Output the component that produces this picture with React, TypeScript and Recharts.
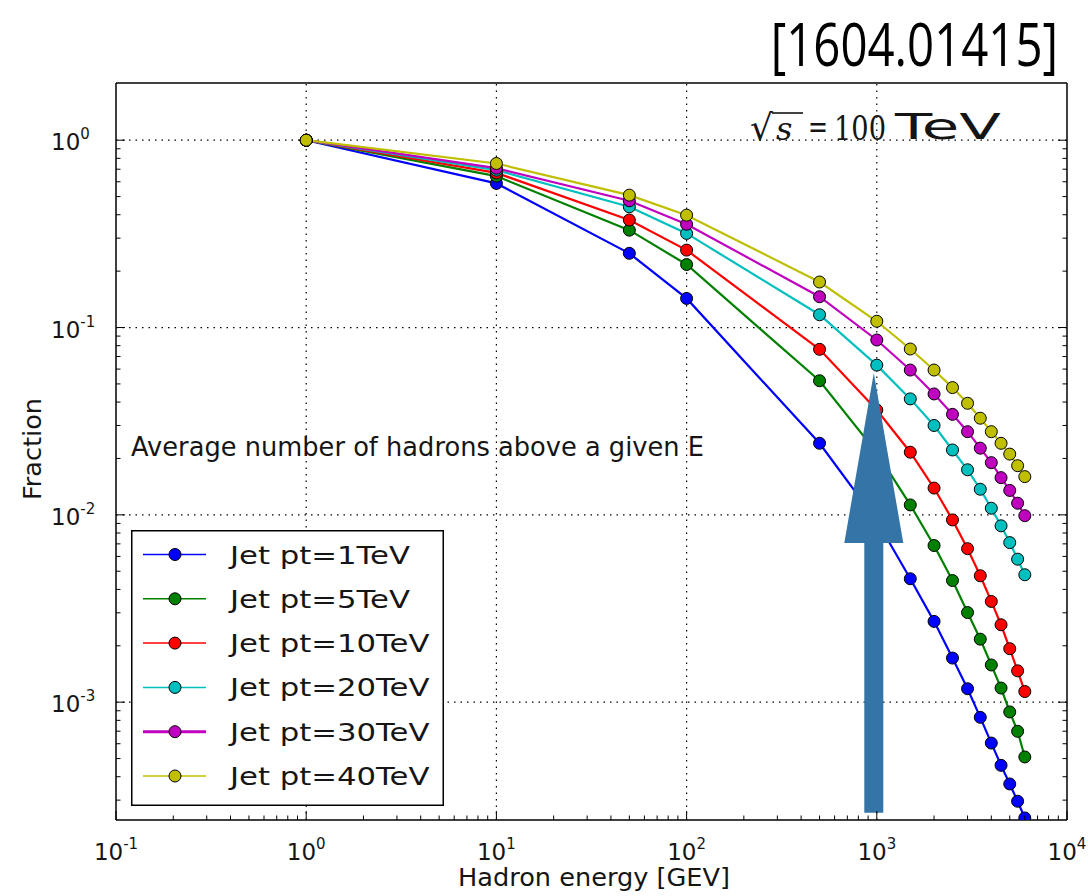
import { LineChart, Line, XAxis, YAxis, ReferenceLine, Legend } from 'recharts';

// Hadron energy [GeV] at which the fraction was evaluated
const energies = [1, 10, 50, 100, 500, 1000, 1500, 2000, 2500, 3000, 3500, 4000, 4500, 5000, 5500, 6000];

// Average number of hadrons above a given E, one list per jet pt
const jet1TeV = [1, 0.588, 0.249, 0.143, 0.0241, 0.0093, 0.00456, 0.0027, 0.00172, 0.00118, 0.00083, 0.000605, 0.00046, 0.000366, 0.000296, 0.000241];
const jet5TeV = [1, 0.643, 0.331, 0.217, 0.052, 0.0215, 0.0113, 0.00686, 0.00446, 0.00301, 0.00217, 0.00158, 0.00119, 0.000887, 0.000699, 0.00051];
const jet10TeV = [1, 0.669, 0.375, 0.259, 0.0765, 0.0363, 0.0216, 0.0139, 0.0094, 0.0066, 0.00473, 0.00345, 0.00259, 0.00193, 0.00147, 0.00114];
const jet20TeV = [1, 0.692, 0.441, 0.318, 0.117, 0.063, 0.0416, 0.03, 0.0222, 0.0174, 0.0137, 0.01085, 0.00874, 0.00711, 0.0058, 0.00479];
const jet30TeV = [1, 0.709, 0.475, 0.356, 0.146, 0.0858, 0.0593, 0.0442, 0.0344, 0.0278, 0.0227, 0.019, 0.0158, 0.0135, 0.01154, 0.0099];
const jet40TeV = [1, 0.751, 0.509, 0.398, 0.175, 0.108, 0.0768, 0.0593, 0.0478, 0.0394, 0.0328, 0.0278, 0.0241, 0.0211, 0.0183, 0.016];

const seriesValues = [jet1TeV, jet5TeV, jet10TeV, jet20TeV, jet30TeV, jet40TeV];
const seriesNames = ['Jet pt=1TeV', 'Jet pt=5TeV', 'Jet pt=10TeV', 'Jet pt=20TeV', 'Jet pt=30TeV', 'Jet pt=40TeV'];
const seriesColors = ['#0000ff', '#008000', '#ff0000', '#00bfbf', '#bf00bf', '#bfbf00'];

const xDomain = [0.1, 10000];
const yDomain = [2.35e-4, 2.02];
const xGrid = [1, 10, 100, 1000];
const yGrid = [1, 0.1, 0.01, 0.001];

// arrow pointing up at 1 TeV hadron energy
const arrowX = 1000;
const arrowTop = 0.0572;
const arrowBottom = 2.57e-4;

const rows = energies.map((e, i) => {
  const row: Record<string, number> = { energy: e };
  seriesValues.forEach((vals, k) => (row['s' + k] = vals[i]));
  return row;
});

// decade + minor ticks (1..9 x 10^d) inside the range
function logTicks(lo: number, hi: number) {
  const out: number[] = [];
  for (let d = Math.floor(Math.log10(lo)); d <= Math.ceil(Math.log10(hi)); d++) {
    for (let m = 1; m <= 9; m++) {
      const v = m * Math.pow(10, d);
      if (v >= lo * 0.999 && v <= hi * 0.99) out.push(v);
    }
  }
  return out;
}
const xTicks = logTicks(xDomain[0], xDomain[1] * 1.02);
const yTicks = logTicks(yDomain[0], yDomain[1]);

const isDecade = (v: number) => Math.abs(Math.log10(v) - Math.round(Math.log10(v))) < 1e-6;
const expOf = (v: number) => Math.round(Math.log10(v));

const FONT = 'DejaVu Sans';
const INK = '#151515';
const MAJOR = 9;
const MINOR = 4.5;

const BottomTick = (props: any) => {
  const { x, y, payload } = props;
  const major = isDecade(payload.value);
  return (
    <g>
      <line x1={x} x2={x} y1={y} y2={y - (major ? MAJOR : MINOR)} stroke="#000" strokeWidth={1} />
      {major && (
        <text x={x} y={y + 40} textAnchor="middle" fontFamily={FONT} fontSize={23} fill={INK}>
          10<tspan dy={-11} fontSize={15}>{expOf(payload.value)}</tspan>
        </text>
      )}
    </g>
  );
};

const TopTick = (props: any) => {
  const { x, y, payload } = props;
  const major = isDecade(payload.value);
  return <line x1={x} x2={x} y1={y} y2={y + (major ? MAJOR : MINOR)} stroke="#000" strokeWidth={1} />;
};

const LeftTick = (props: any) => {
  const { x, y, payload } = props;
  const major = isDecade(payload.value);
  return (
    <g>
      <line x1={x} x2={x + (major ? MAJOR : MINOR)} y1={y} y2={y} stroke="#000" strokeWidth={1} />
      {major && (
        <text x={x - 65} y={y + 10} fontFamily={FONT} fontSize={23} fill={INK}>
          10<tspan dy={-11} fontSize={15}>{expOf(payload.value)}</tspan>
        </text>
      )}
    </g>
  );
};

const RightTick = (props: any) => {
  const { x, y, payload } = props;
  const major = isDecade(payload.value);
  return <line x1={x} x2={x - (major ? MAJOR : MINOR)} y1={y} y2={y} stroke="#000" strokeWidth={1} />;
};

const Arrow = (props: any) => {
  const { x1, y1, y2 } = props;
  const cx = x1 - 3;
  const headLen = 170;
  const headHalf = 29.5;
  const shaftHalf = 9.5;
  const pts = [
    [cx, y1],
    [cx + headHalf, y1 + headLen],
    [cx + shaftHalf, y1 + headLen],
    [cx + shaftHalf, y2],
    [cx - shaftHalf, y2],
    [cx - shaftHalf, y1 + headLen],
    [cx - headHalf, y1 + headLen],
  ];
  return <polygon points={pts.map((p) => p.join(',')).join(' ')} fill="#3474a6" />;
};

const LegendBox = () => (
  <svg width={313} height={276} style={{ display: 'block' }}>
    <rect x={0.75} y={0.75} width={311.5} height={274.5} fill="#fff" stroke="#000" strokeWidth={1.5} />
    {seriesNames.map((name, i) => {
      const cy = 24.5 + i * 44.3;
      return (
        <g key={name}>
          <line x1={12} x2={75} y1={cy} y2={cy} stroke={seriesColors[i]} strokeWidth={i === 4 ? 3 : 1.5} />
          <circle cx={44} cy={cy} r={6} fill={seriesColors[i]} stroke="#000" strokeWidth={1} />
          <text transform={`translate(99 ${cy + 9}) scale(1.28 1)`} fontFamily={FONT} fontSize={24} fill={INK}>
            {name}
          </text>
        </g>
      );
    })}
  </svg>
);

const axisLine = { stroke: '#000', strokeWidth: 1.5 };

export default function App() {
  return (
    <div style={{ position: 'absolute', left: 0, top: 0, width: 1088, height: 896, background: '#fff', overflow: 'hidden' }}>
      <LineChart width={1088} height={896} data={rows} margin={{ top: 82, right: 20, bottom: 75, left: 115 }}>
        <XAxis
          dataKey="energy"
          type="number"
          scale="log"
          domain={xDomain}
          allowDataOverflow
          ticks={xTicks}
          interval={0}
          height={1}
          tickSize={0}
          tickMargin={0}
          tick={BottomTick}
          axisLine={axisLine}
        />
        <XAxis
          xAxisId="top"
          orientation="top"
          type="number"
          scale="log"
          domain={xDomain}
          allowDataOverflow
          ticks={xTicks}
          interval={0}
          height={1}
          tickSize={0}
          tickMargin={0}
          tick={TopTick}
          axisLine={axisLine}
        />
        <YAxis
          type="number"
          scale="log"
          domain={yDomain}
          allowDataOverflow
          ticks={yTicks}
          interval={0}
          width={1}
          tickSize={0}
          tickMargin={0}
          tick={LeftTick}
          axisLine={axisLine}
        />
        <YAxis
          yAxisId="right"
          orientation="right"
          type="number"
          scale="log"
          domain={yDomain}
          allowDataOverflow
          ticks={yTicks}
          interval={0}
          width={1}
          tickSize={0}
          tickMargin={0}
          tick={RightTick}
          axisLine={axisLine}
        />
        {xGrid.map((v) => (
          <ReferenceLine key={'gx' + v} x={v} stroke="#000" strokeWidth={1.2} strokeDasharray="1.5 5" />
        ))}
        {yGrid.map((v) => (
          <ReferenceLine key={'gy' + v} y={v} stroke="#000" strokeWidth={1.2} strokeDasharray="1.5 5" />
        ))}
        {seriesNames.map((name, k) => (
          <Line
            key={name}
            name={name}
            dataKey={'s' + k}
            type="linear"
            stroke={seriesColors[k]}
            strokeWidth={2.2}
            dot={{ r: 6, fill: seriesColors[k], stroke: '#000', strokeWidth: 1 }}
            isAnimationActive={false}
          />
        ))}
        <ReferenceLine
          segment={[{ x: arrowX, y: arrowTop }, { x: arrowX, y: arrowBottom }]}
          shape={Arrow}
          ifOverflow="visible"
          zIndex={1500}
        />
        <Legend
          content={LegendBox}
          layout="horizontal"
          verticalAlign="middle"
          align="center"
          wrapperStyle={{ left: 131, top: 530, width: 313, height: 276 }}
        />
      </LineChart>
      <svg width={1088} height={896} style={{ position: 'absolute', left: 0, top: 0, pointerEvents: 'none' }}>
        <text transform="translate(1058 66) scale(0.79 1)" textAnchor="end" fontFamily="Open Sans" fontSize={60} fill="#000">
          [1604.01415]
        </text>
        <text x={750} y={140} fontFamily="DejaVu Serif" fontSize={36} fill={INK}>√</text>
        <line x1={772} x2={803} y1={113} y2={113} stroke={INK} strokeWidth={1.6} />
        <text x={776} y={140} fontFamily="DejaVu Serif" fontStyle="italic" fontSize={32} fill={INK}>s</text>
        <text x={808} y={138} fontFamily="DejaVu Serif" fontSize={32} textLength={20} lengthAdjust="spacingAndGlyphs" fill={INK}>=</text>
        <text x={834} y={140} fontFamily="DejaVu Serif" fontSize={33} textLength={52} lengthAdjust="spacingAndGlyphs" fill={INK}>100</text>
        <text x={895} y={139} fontFamily={FONT} fontSize={35} textLength={106} lengthAdjust="spacingAndGlyphs" fill={INK}>TeV</text>
        <text x={131} y={456} fontFamily={FONT} fontSize={27} textLength={573} lengthAdjust="spacingAndGlyphs" fill={INK}>
          Average number of hadrons above a given E
        </text>
        <text x={458} y={886} fontFamily={FONT} fontSize={24} textLength={272} lengthAdjust="spacingAndGlyphs" fill={INK}>
          Hadron energy [GEV]
        </text>
        <text transform="translate(41 449) rotate(-90)" textAnchor="middle" fontFamily={FONT} fontSize={24} textLength={102} lengthAdjust="spacingAndGlyphs" fill={INK}>
          Fraction
        </text>
      </svg>
    </div>
  );
}
